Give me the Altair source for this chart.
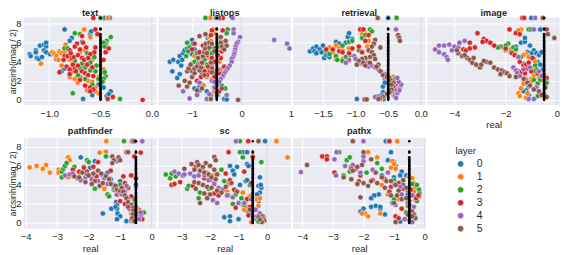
import altair as alt
import pandas as pd

PALETTE = ["#1f77b4", "#ff7f0e", "#2ca02c", "#d62728", "#9467bd", "#8c564b"]
PANELS = ["text", "listops", "retrieval", "image", "pathfinder", "sc", "pathx"]
BLACK_Y = [0.0,0.1,0.2,0.3,0.4,0.55,0.7,0.8,0.95,1.1,1.2,1.35,1.5,1.6,1.75,1.9,2.0,2.15,2.3,2.4,2.55,2.7,2.8,2.95,3.1,
           3.2,3.35,3.5,3.6,3.75,3.9,4.0,4.15,4.3,4.4,4.55,4.7,4.8,4.95,5.1,5.2,5.35,5.5,5.6,5.75,5.9,6.0,6.1,6.25,6.4,6.55,6.7,6.9,7.4,7.5,8.6]

TEXT = {
0:[(-1.19,4.8),(-1.18,4.6),(-1.13,5.2),(-1.13,5.0),(-1.12,4.4),(-1.10,4.3),(-1.07,4.5),(-1.09,5.7),(-1.05,5.8),(-1.03,5.6),(-1.03,6.0),(-1.05,5.2),(-1.03,5.0),(-0.99,4.8),(-0.96,4.9),(-0.93,4.3),(-0.88,3.0),(-0.85,3.3),(-0.85,7.4),(-0.78,6.5),(-0.80,6.2),(-0.68,6.1),(-0.6,6.9),(-0.59,7.2),(-0.67,0.1),(-0.58,0.5),(-0.44,0.4),(-0.4,0.9),(-0.42,0.6),(-0.47,1.3),(-0.52,1.6),(-0.46,8.6),(-0.41,8.6),(-0.45,2.5)],
1:[(-1.08,3.8),(-0.97,5.0),(-0.95,4.8),(-0.93,4.6),(-0.9,5.1),(-0.88,4.9),(-0.85,5.0),(-0.83,4.6),(-0.8,4.2),(-0.91,4.2),(-0.88,3.6),(-0.85,5.5),(-0.84,5.8),(-0.66,7.4),(-0.6,6.6),(-0.78,3.0),(-0.75,2.2),(-0.72,1.8),(-0.69,3.4),(-0.62,2.0),(-0.55,1.3),(-0.52,0.7),(-0.55,0.9),(-0.63,1.0),(-0.58,1.9),(-0.43,8.6),(-0.47,3.2),(-0.7,5.0),(-0.75,3.9),(-0.65,5.2),(-0.58,4.2),(-0.52,2.4),(-0.8,2.4)],
2:[(-0.77,0.7),(-0.75,7.0),(-0.7,6.9),(-0.4,6.6),(-0.44,6.2),(-0.45,5.9),(-0.47,6.0),(-0.85,5.4),(-0.82,5.4),(-0.7,2.4),(-0.65,2.2),(-0.55,3.0),(-0.6,3.1),(-0.65,3.4),(-0.72,2.6),(-0.5,8.6),(-0.31,0.1),(-0.45,2.5),(-0.47,2.2),(-0.48,1.9),(-0.46,2.9),(-0.7,3.3),(-0.68,3.8),(-0.6,3.9),(-0.56,4.5),(-0.54,3.6),(-0.58,1.6),(-0.63,4.9),(-0.75,4.1),(-0.52,2.2),(-0.46,5.6)],
3:[(-0.09,0.0),(-0.38,0.3),(-0.43,0.1),(-0.57,8.6),(-0.55,7.4),(-0.53,6.9),(-0.42,5.4),(-0.45,5.0),(-0.47,4.2),(-0.68,6.7),(-0.67,6.0),(-0.73,5.9),(-0.75,5.6),(-0.8,5.2),(-0.85,4.6),(-0.82,4.6),(-0.78,4.4),(-0.76,4.5),(-0.72,4.7),(-0.68,4.4),(-0.66,4.2),(-0.83,3.5),(-0.8,3.2),(-0.75,3.3),(-0.72,3.6),(-0.68,3.0),(-0.65,2.8),(-0.62,2.6),(-0.9,2.9),(-0.8,2.7),(-0.65,1.5),(-0.6,1.3),(-0.57,1.1),(-0.6,0.9),(-0.56,5.0),(-0.6,4.8),(-0.62,4.4),(-0.55,5.5),(-0.58,3.4),(-0.7,5.3),(-0.64,5.5),(-0.77,3.7),(-0.7,2.1),(-0.57,2.5),(-0.63,3.7),(-0.79,4.9),(-0.74,3.0),(-0.86,4.2)],
}
LISTOPS = {
0:[(-1.45,4.0),(-1.38,4.2),(-1.28,4.0),(-1.22,3.6),(-1.4,3.0),(-1.25,2.7),(-1.25,4.6),(-1.18,4.9),(-1.15,5.2),(-1.1,5.4),(-1.05,5.6),(-1.05,5.0),(-1.0,4.8),(-1.0,6.3),(-0.98,5.9),(-1.2,4.2),(-1.3,2.3),(-0.95,5.3),(-0.95,1.2),(-0.9,0.6),(-0.85,1.4),(-0.85,1.0),(-0.8,1.6),(-0.7,0.9),(-0.62,0.5),(-0.55,1.1),(-0.35,0.1),(-0.3,0.05),(-0.52,8.6),(-0.5,8.6),(-0.68,6.5)],
1:[(-0.95,4.6),(-0.9,4.2),(-0.85,4.0),(-0.8,3.6),(-0.75,3.3),(-0.7,3.0),(-0.7,4.4),(-0.6,3.6),(-0.55,2.7),(-0.6,2.2),(-0.7,2.4),(-0.77,1.5),(-0.65,6.6),(-0.62,6.2),(-0.6,5.6),(-0.55,7.0),(-0.57,7.4),(-0.48,6.5),(-0.45,5.2),(-0.45,4.0),(-0.42,3.2),(-0.63,8.6),(-0.55,0.9),(-0.5,1.7),(-0.98,3.9),(-0.65,4.7)],
2:[(-0.73,8.6),(-1.1,6.0),(-1.05,5.5),(-1.08,5.1),(-1.12,4.6),(-0.95,4.0),(-0.88,3.8),(-0.82,4.5),(-0.75,4.2),(-0.7,3.7),(-0.68,5.2),(-0.6,4.9),(-0.55,5.4),(-0.45,5.6),(-0.38,6.0),(-0.28,7.4),(-0.3,7.0),(-0.55,2.9),(-0.45,1.9),(-0.4,1.5),(-0.33,1.2),(-0.48,0.5),(-0.8,2.8),(-1.0,3.0),(-0.9,4.9),(-0.65,3.2)],
3:[(-0.38,8.6),(-0.6,7.3),(-0.62,6.8),(-0.38,7.3),(-0.95,5.9),(-1.0,5.3),(-0.85,5.0),(-0.75,5.2),(-0.7,4.7),(-0.6,4.4),(-0.55,4.0),(-0.6,3.3),(-0.65,2.9),(-0.7,2.6),(-0.55,2.4),(-0.45,2.8),(-0.42,4.4),(-0.4,5.1),(-0.38,5.4),(-0.9,2.0),(-0.82,2.4),(-0.35,3.5),(-0.75,3.0),(-0.45,0.9),(-0.85,3.7),(-0.78,5.7)],
4:[(-0.03,6.6),(-0.07,6.1),(-0.1,5.9),(-0.12,5.6),(-0.13,5.3),(-0.14,5.0),(-0.15,4.8),(-0.17,4.5),(-0.2,4.3),(-0.2,4.0),(-0.24,3.6),(-0.28,3.3),(-0.32,3.0),(-0.35,2.8),(-0.38,2.5),(-0.42,2.2),(-0.45,1.9),(-0.5,1.5),(-0.55,1.3),(-0.16,7.4),(-0.16,7.0),(-0.18,8.6),(0.66,6.3),(0.92,5.9),(0.97,5.4),(-1.18,0.9),(-1.05,0.15),(-0.85,1.8),(-0.65,0.6),(-0.7,0.1),(-0.9,0.5),(-0.6,2.0),(-0.55,1.9),(-0.48,3.2),(-0.3,0.5)],
5:[(-1.27,1.5),(-1.15,2.0),(-1.1,1.4),(-1.05,1.8),(-1.0,2.4),(-1.0,3.0),(-0.95,2.8),(-1.1,3.0),(-1.07,3.3),(-1.03,3.7),(-0.95,3.3),(-0.9,3.5),(-0.85,3.1),(-0.82,3.4),(-0.8,3.9),(-0.78,4.6),(-0.75,5.0),(-0.73,5.4),(-0.72,5.9),(-0.7,4.9),(-0.65,5.5),(-0.65,6.0),(-0.6,5.9),(-0.55,5.1),(-0.85,6.7),(-0.73,6.9),(-0.42,6.0),(-0.4,5.6),(-0.35,5.3),(-0.3,5.7),(-0.32,6.2),(-0.42,6.6),(-0.07,0.0),(-0.5,0.5),(-0.62,0.1),(-0.45,8.6),(-0.4,1.2),(-0.8,1.2),(-0.9,1.0),(-0.6,2.9),(-0.62,3.9),(-0.48,4.7),(-0.75,2.6),(-0.68,3.5),(-0.88,4.4)],
}
RETRIEVAL = {
0:[(-1.7,5.1),(-1.65,5.4),(-1.63,5.1),(-1.6,4.9),(-1.6,5.6),(-1.55,5.3),(-1.52,5.0),(-1.5,5.7),(-1.48,4.4),(-1.45,4.7),(-1.4,4.5),(-1.3,6.1),(-1.25,5.9),(-1.15,6.0),(-1.12,6.6),(-1.1,7.0),(-1.05,6.4),(-0.98,0.1),(-0.55,2.2),(-0.58,1.4),(-0.58,0.8),(-0.6,0.5),(-0.65,0.35),(-0.57,0.1),(-0.5,8.6),(-0.55,1.8),(-1.3,4.3)],
1:[(-0.9,7.4),(-0.86,7.0),(-0.9,6.9),(-0.38,8.6),(-1.4,5.5),(-1.3,5.7),(-1.25,5.4),(-1.2,5.2),(-1.35,5.0),(-1.1,5.4),(-1.3,4.3),(-1.2,4.3),(-1.1,4.1),(-0.82,5.6),(-0.8,6.2),(-0.42,2.4),(-0.38,2.0),(-0.4,1.6),(-0.35,1.3),(-0.45,1.0),(-0.42,0.5)],
2:[(-0.88,7.4),(-0.78,7.4),(-0.75,7.2),(-1.1,6.1),(-1.05,6.2),(-1.2,5.7),(-1.45,5.1),(-1.4,4.8),(-1.3,4.6),(-1.28,4.2),(-1.15,4.5),(-1.08,4.7),(-0.95,5.2),(-0.9,6.5),(-0.85,6.8),(-0.45,2.1),(-0.4,2.2),(-0.43,0.9),(-0.37,8.6),(-1.2,4.1)],
3:[(-0.93,7.4),(-0.86,0.05),(-0.88,7.4),(-0.8,6.8),(-1.45,5.3),(-1.35,5.3),(-1.25,5.1),(-1.2,5.0),(-1.1,4.9),(-1.05,5.4),(-0.95,5.6),(-0.9,5.0),(-0.85,6.2),(-0.42,1.2),(-0.38,1.7),(-0.55,2.4)],
4:[(-1.02,4.6),(-1.0,4.3),(-1.1,4.2),(-1.15,3.9),(-0.95,4.0),(-0.9,3.8),(-0.85,3.7),(-0.8,3.5),(-0.75,3.6),(-0.7,3.4),(-0.65,3.2),(-0.38,7.4),(-0.6,2.9),(-0.55,2.7),(-0.32,1.3),(-0.3,1.6),(-0.34,1.9),(-0.36,2.3),(-0.4,0.4),(-0.36,0.7),(-0.38,0.2),(-0.62,0.1),(-0.7,0.3),(-0.33,1.0),(-0.4,1.1),(-0.82,3.9)],
5:[(-0.66,8.6),(-0.35,6.8),(-0.33,6.5),(-0.32,6.2),(-0.7,6.3),(-0.72,5.9),(-0.75,5.6),(-0.8,5.2),(-0.75,5.0),(-0.72,4.7),(-0.78,4.5),(-0.85,4.4),(-0.9,4.3),(-0.95,4.1),(-0.88,3.9),(-0.85,3.6),(-0.78,3.9),(-0.7,4.3),(-0.65,3.7),(-0.68,3.5),(-0.62,3.0),(-0.58,2.6),(-0.52,2.4),(-0.48,2.3),(-0.45,2.0),(-0.42,1.8),(-0.42,1.4),(-0.45,1.1),(-0.48,0.8),(-0.52,0.6),(-0.58,0.35),(-0.62,0.2),(-0.65,0.1),(-0.83,0.05),(-0.45,1.6),(-0.98,3.7),(-0.62,5.5)],
}
IMAGE = {
0:[(-1.0,8.6),(-0.65,7.4),(-1.6,5.6),(-1.4,6.0),(-1.25,6.1),(-1.05,5.7),(-0.9,5.2),(-0.8,4.9),(-0.7,4.7),(-1.0,4.9),(-1.15,5.0),(-0.9,4.3),(-0.75,4.0),(-0.65,3.7),(-0.85,3.3),(-0.55,3.2),(-1.1,1.4),(-1.2,1.0),(-1.3,0.9),(-1.1,0.5),(-0.6,5.0),(-1.25,6.5)],
1:[(-1.4,7.4),(-1.5,7.3),(-2.1,5.5),(-2.0,5.2),(-1.8,5.3),(-1.7,5.0),(-1.2,4.8),(-1.3,4.7),(-1.1,4.5),(-0.85,4.0),(-1.0,2.2),(-1.0,1.9),(-1.3,1.7),(-1.4,1.2),(-1.5,0.7),(-1.45,0.4),(-1.2,0.2),(-1.15,0.7),(-0.7,2.3),(-0.9,2.6),(-1.25,2.3),(-0.8,1.2)],
2:[(-1.1,7.4),(-1.0,7.4),(-1.9,5.9),(-2.0,5.7),(-2.2,5.6),(-2.3,5.5),(-1.7,5.5),(-1.8,5.0),(-1.6,4.7),(-1.4,4.5),(-0.85,3.6),(-0.8,3.2),(-0.9,3.0),(-1.3,3.8),(-0.9,2.1),(-0.7,2.6),(-0.65,2.1),(-0.75,1.7),(-0.4,1.8),(-0.75,0.4),(-1.6,5.3)],
3:[(-3.1,7.0),(-2.85,6.4),(-3.4,6.0),(-2.75,6.2),(-3.65,5.3),(-3.55,5.2),(-3.4,5.4),(-3.2,5.5),(-2.9,6.1),(-2.6,6.0),(-2.45,5.7),(-1.85,7.4),(-1.6,7.0),(-1.45,6.9),(-2.0,5.4),(-1.75,4.9),(-1.65,4.7),(-1.5,4.5),(-1.45,4.0),(-1.3,3.6),(-1.2,3.7),(-1.1,3.9),(-1.15,3.3),(-1.0,3.0),(-0.95,4.4),(-1.5,3.0),(-1.4,2.9),(-1.25,2.8),(-0.55,2.6),(-0.4,2.3),(-0.5,2.1),(-0.75,2.8),(-1.35,8.6),(-1.28,8.6),(-0.5,0.4)],
4:[(-4.6,5.7),(-4.75,5.3),(-4.6,5.0),(-4.4,4.8),(-4.3,4.5),(-4.25,4.2),(-4.4,5.7),(-4.2,5.8),(-4.0,5.6),(-3.85,5.5),(-3.8,6.0),(-3.6,6.2),(-4.1,5.2),(-0.85,8.6),(-0.9,7.4),(-1.7,3.4),(-1.6,3.1),(-1.55,2.8),(-1.45,2.5),(-0.8,1.3),(-1.1,0.1),(-0.9,0.1),(-1.2,2.1),(-1.3,3.2),(-1.05,3.4),(-0.7,3.0),(-0.6,2.5),(-1.5,4.5)],
5:[(-0.55,8.6),(-0.4,7.4),(-0.35,6.9),(-0.1,6.5),(-3.85,4.9),(-3.7,4.6),(-3.5,4.4),(-3.4,4.2),(-3.3,3.9),(-3.15,3.7),(-3.0,3.4),(-2.95,3.7),(-2.75,4.0),(-2.6,3.9),(-2.85,4.1),(-3.6,4.7),(-3.25,4.4),(-3.9,5.2),(-2.45,3.4),(-2.3,3.2),(-2.15,3.1),(-2.05,2.9),(-1.95,2.8),(-1.85,2.5),(-1.6,2.4),(-1.3,2.2),(-1.15,1.8),(-1.05,1.5),(-0.9,1.1),(-0.7,0.9),(-0.6,0.5),(-0.4,0.3),(-0.45,1.3),(-2.2,2.7)],
}
PATHFINDER = {
0:[(-2.25,6.9),(-1.95,5.8),(-1.8,6.5),(-1.55,1.0),(-1.28,1.5),(-1.13,2.2),(-1.1,1.9),(-1.1,1.5),(-1.08,1.0),(-1.0,0.7),(-1.1,0.4),(-0.8,0.2),(-1.2,4.0),(-1.0,4.4),(-1.4,5.3),(-1.55,5.0),(-1.3,4.6),(-0.65,0.2),(-0.5,4.0),(-2.15,5.9),(-1.15,1.7)],
1:[(-3.87,5.85),(-3.65,6.0),(-3.45,5.7),(-3.35,6.1),(-3.23,5.3),(-2.95,5.6),(-2.95,5.3),(-2.65,6.9),(-2.6,6.6),(-2.7,6.3),(-2.65,4.8),(-2.5,4.9),(-1.65,7.4),(-1.45,7.5),(-1.44,8.6),(-2.3,5.3),(-1.9,4.9),(-1.6,4.0),(-1.5,3.6),(-0.55,2.2),(-0.4,1.4),(-0.6,0.2),(-0.65,1.0),(-0.5,0.6)],
2:[(-0.88,8.6),(-2.85,4.8),(-2.85,5.4),(-2.8,5.7),(-2.75,6.0),(-2.7,6.3),(-2.45,5.9),(-2.05,6.6),(-2.0,6.4),(-1.45,7.0),(-1.8,3.6),(-1.4,3.0),(-1.35,2.8),(-1.0,4.0),(-0.9,3.7),(-0.5,1.0),(-0.25,1.1),(-0.55,2.5),(-1.2,3.5)],
3:[(-0.62,8.6),(-0.35,7.4),(-2.3,5.4),(-2.5,5.6),(-2.15,5.8),(-1.85,5.9),(-1.7,6.4),(-2.05,5.4),(-1.75,4.9),(-1.5,5.0),(-1.3,5.5),(-0.9,4.9),(-0.65,5.0),(-0.85,4.2),(-0.75,3.7),(-1.0,2.3),(-0.85,2.0),(-0.7,1.5),(-0.65,2.8),(-1.1,3.0),(-0.3,0.4),(-0.5,4.7),(-0.55,7.0)],
4:[(-0.3,8.6),(-2.75,5.0),(-2.6,5.1),(-2.5,5.2),(-2.35,4.7),(-2.25,4.5),(-2.1,4.8),(-1.9,4.6),(-1.7,4.4),(-1.4,4.1),(-1.2,3.7),(-1.05,3.2),(-0.95,3.0),(-0.85,3.3),(-1.1,6.5),(-0.8,3.9),(-0.35,0.8),(-0.35,1.1),(-0.4,0.4),(-0.5,1.7),(-0.6,1.2),(-1.5,4.7),(-0.75,2.5)],
5:[(-0.6,8.6),(-0.55,8.6),(-0.8,7.45),(-0.75,7.45),(-1.25,7.0),(-1.2,6.6),(-1.25,6.3),(-1.05,6.9),(-1.0,6.6),(-2.2,5.3),(-2.05,5.1),(-2.0,5.0),(-1.85,5.2),(-1.7,5.5),(-1.6,5.2),(-1.45,4.9),(-1.35,4.6),(-1.8,4.4),(-1.9,4.1),(-1.65,3.9),(-1.55,4.2),(-1.3,4.1),(-1.15,3.9),(-1.1,3.5),(-1.0,3.4),(-0.95,3.7),(-0.9,3.3),(-0.85,2.9),(-0.8,2.6),(-0.75,2.2),(-0.65,1.9),(-0.6,1.6),(-0.58,1.3),(-0.6,0.9),(-0.62,0.5),(-0.55,0.2),(-0.75,1.7),(-2.45,4.9),(-2.3,4.8),(-2.1,4.3)],
}
SC = {
0:[(-0.07,8.6),(-0.85,7.45),(-0.7,7.45),(-1.3,6.0),(-1.2,5.5),(-1.15,5.1),(-1.05,5.9),(-0.7,6.2),(-0.65,6.0),(-0.75,4.4),(-0.95,4.0),(-0.7,4.5),(-0.25,4.8),(-0.3,3.9),(-0.2,3.7),(-0.25,3.2),(-0.35,3.0),(-0.22,4.0),(-0.55,2.9),(-1.5,0.6),(-1.3,0.7),(-1.3,0.2),(-1.0,0.4),(-0.7,1.3),(-0.6,0.9),(-0.3,2.3)],
1:[(0.33,8.6),(0.72,6.9),(-0.5,7.0),(-2.25,5.6),(-2.1,5.3),(-1.9,5.0),(-1.75,5.2),(-1.5,4.4),(-1.35,4.1),(-1.1,3.4),(-0.85,3.2),(-0.65,2.6),(-0.85,1.9),(-0.8,1.4),(-0.7,1.7),(-0.75,2.2),(-0.3,1.8),(-0.35,2.5),(-0.25,2.6),(-0.55,0.1),(-0.6,2.8),(-1.85,4.4),(-1.4,3.3)],
2:[(-0.95,8.6),(-0.95,7.45),(-0.85,6.9),(-0.2,6.4),(-3.55,5.1),(-3.4,4.7),(-3.2,4.9),(-3.35,5.2),(-2.8,3.6),(-2.75,3.9),(-2.4,2.6),(-2.35,3.2),(-2.05,3.6),(-1.85,4.2),(-1.6,5.6),(-1.5,4.4),(-1.2,2.0),(-1.35,2.9),(-0.9,2.6),(-0.8,1.9),(-0.35,0.4),(-0.3,0.15),(-1.1,3.0),(-0.6,4.0)],
3:[(-0.66,8.6),(-1.35,7.45),(-0.5,6.95),(-3.35,4.0),(-3.25,4.1),(-3.05,4.3),(-2.95,5.0),(-2.6,3.9),(-2.5,5.9),(-2.45,6.3),(-2.2,4.7),(-2.0,4.5),(-1.85,3.1),(-1.7,2.9),(-1.6,3.5),(-1.45,5.2),(-1.3,4.5),(-1.15,3.5),(-0.8,5.4),(-0.55,4.2),(-0.7,2.5),(-0.6,1.7),(-0.65,0.8),(-1.1,1.6)],
4:[(-1.09,8.6),(-3.25,5.4),(-3.1,5.2),(-2.9,5.1),(-2.7,5.2),(-2.55,4.9),(-2.4,5.0),(-2.2,5.0),(-2.05,4.5),(-1.85,4.1),(-1.7,3.7),(-1.55,3.5),(-1.4,2.9),(-1.2,2.7),(-1.9,2.4),(-1.75,2.1),(-0.55,2.5),(-0.5,0.6),(-0.35,0.7),(-0.25,1.0),(-0.4,1.4),(-1.0,2.1),(-0.8,2.1)],
5:[(-0.3,8.6),(-1.85,6.95),(-1.8,6.6),(-2.45,6.4),(-2.4,6.1),(-2.65,6.2),(-2.9,5.7),(-2.55,5.6),(-2.35,5.5),(-2.25,5.9),(-2.15,6.3),(-2.0,6.0),(-1.85,5.6),(-1.75,5.1),(-2.2,5.3),(-2.05,5.1),(-1.95,4.8),(-1.8,4.6),(-2.55,4.3),(-2.4,4.2),(-2.25,4.0),(-2.1,3.8),(-1.95,3.7),(-1.75,3.4),(-1.6,3.2),(-2.5,3.6),(-2.2,3.1),(-2.0,3.0),(-2.1,2.6),(-2.35,2.1),(-1.25,4.2),(-1.45,3.8),(-0.15,0.7),(-0.12,0.45),(-0.1,0.25),(-0.2,0.2),(-0.18,0.1),(-0.3,0.6),(-0.25,0.35),(-0.6,1.4),(-1.05,3.3)],
}
PATHX = {
0:[(-1.27,8.6),(-1.18,8.6),(-1.1,7.45),(-1.2,6.6),(-1.0,6.4),(-0.95,6.0),(-0.75,5.4),(-0.6,5.0),(-0.8,5.0),(-1.4,5.0),(-1.0,4.8),(-0.7,4.0),(-1.5,3.0),(-1.65,2.9),(-1.75,2.6),(-1.6,1.8),(-1.45,1.5),(-1.45,1.7),(-1.75,1.7),(-1.3,0.9),(-2.0,1.5),(-2.1,1.2),(-1.05,2.1),(-0.85,0.3),(-0.8,0.15),(-0.55,3.0)],
1:[(-0.9,8.6),(-1.85,7.45),(-1.55,6.9),(-1.05,6.5),(-1.0,6.2),(-1.1,5.8),(-0.95,5.7),(-0.5,4.9),(-0.4,4.7),(-0.35,4.2),(-0.3,3.7),(-0.35,3.3),(-0.25,2.9),(-0.3,2.4),(-1.2,3.0),(-1.4,4.0),(-1.95,1.0),(-1.85,0.7),(-1.45,1.0),(-2.05,1.0),(-0.85,2.5)],
2:[(-2.8,7.45),(-2.55,6.6),(-2.45,6.9),(-1.55,6.3),(-1.4,5.7),(-2.65,5.0),(-2.45,5.4),(-1.9,5.3),(-0.4,4.1),(-0.25,4.0),(-0.18,3.5),(-0.17,3.1),(-0.18,2.8),(-0.25,2.3),(-0.4,1.5),(-0.45,0.7),(-0.55,1.8),(-0.6,1.1),(-1.0,2.5),(-1.0,4.5),(-0.5,0.3)],
3:[(-1.15,8.6),(-3.35,7.0),(-3.2,7.0),(-3.2,6.7),(-2.95,5.3),(-2.4,5.9),(-2.25,5.7),(-2.1,5.0),(-1.7,4.5),(-1.3,4.6),(-0.85,4.2),(-0.7,3.6),(-0.45,3.5),(-0.28,2.6),(-0.2,2.9),(-0.5,2.3),(-0.95,0.7),(-0.85,0.5),(-0.45,1.3),(-1.1,3.8),(-0.75,1.5)],
4:[(-2.0,8.6),(-2.95,6.7),(-2.88,7.45),(-4.05,5.35),(-2.9,5.0),(-2.6,6.0),(-2.35,6.1),(-2.0,6.5),(-2.0,7.0),(-2.1,5.3),(-1.7,5.6),(-1.2,5.3),(-1.0,4.1),(-0.8,3.8),(-0.55,3.4),(-0.4,2.9),(-0.55,2.1),(-0.65,0.4),(-0.4,0.1),(-0.95,1.9),(-0.35,1.7),(-0.75,3.0)],
5:[(-2.35,8.6),(-3.85,6.1),(-2.0,7.45),(-1.75,6.7),(-2.4,5.7),(-2.2,5.9),(-2.05,6.1),(-2.35,5.5),(-2.65,4.8),(-2.4,4.6),(-2.15,4.4),(-2.2,4.1),(-2.0,4.2),(-1.85,3.9),(-2.1,2.7),(-1.6,5.3),(-1.4,4.8),(-1.25,4.4),(-1.1,4.4),(-0.95,4.0),(-0.85,3.4),(-1.3,3.7),(-1.15,3.3),(-1.1,2.9),(-0.9,2.9),(-0.75,2.5),(-0.6,2.6),(-0.5,1.9),(-0.4,1.2),(-0.35,0.9),(-0.3,0.5),(-0.4,0.7),(-0.95,0.1),(-0.55,0.9),(-1.55,4.2),(-1.75,4.4),(-0.7,4.5),(-1.0,2.1),(-0.6,3.7)],
}
POINTS = [TEXT, LISTOPS, RETRIEVAL, IMAGE, PATHFINDER, SC, PATHX]
X_DOMAINS = [[-1.246,0.045],[-1.68,1.0],[-1.96,0.072],[-5.05,0.12],[-4.05,0.15],[-3.81,0.84],[-4.31,0.03]]
X_TICKS = [[-1.0,-0.5,0.0],[-1,0,1],[-1.5,-1.0,-0.5,0.0],[-4,-2,0],[-4,-3,-2,-1,0],[-3,-2,-1,0],[-4,-3,-2,-1,0]]
X_FORMATS = [".1f","d",".1f","d","d","d","d"]
SHOW_REAL = [False,False,False,True,True,True,True]
SHOW_Y = [True,False,False,False,True,False,False]
Y_TICKS = [0,2,4,6,8]
DOT = "#262626"

panels = []
for i, name in enumerate(PANELS):
    rows = [{"real":x,"imag":y,"layer":k} for k,pts in POINTS[i].items() for x,y in pts]
    top_row = i < 4
    ydom = [-0.55,8.66] if top_row else [-0.6,8.94]
    xscale = alt.Scale(domain=X_DOMAINS[i], nice=False, zero=False)
    yscale = alt.Scale(domain=ydom, nice=False, zero=False)
    xax = alt.Axis(values=X_TICKS[i], format=X_FORMATS[i], title="real" if SHOW_REAL[i] else None,
                   grid=True, gridColor="white", gridWidth=1, ticks=False, domain=False,
                   labelFontSize=9.5, labelColor=DOT, labelPadding=3, titleFontSize=9.5, titleColor=DOT,
                   titleFontWeight="normal", titlePadding=2, labelFlush=False)
    yax = alt.Axis(values=Y_TICKS, format="d", title="arcsinh(imag / 2)" if SHOW_Y[i] else None,
                   labels=SHOW_Y[i], grid=True, gridColor="white", gridWidth=1, ticks=False, domain=False,
                   labelFontSize=9.5, labelColor=DOT, labelPadding=3, titleFontSize=8.8, titleColor=DOT,
                   titleFontWeight="normal", titlePadding=-2)
    X = alt.X("real:Q", scale=xscale, axis=xax)
    Y = alt.Y("imag:Q", scale=yscale, axis=yax)
    rule = alt.Chart(pd.DataFrame({"real":[0]})).mark_rule(color="#dcdcec", strokeWidth=1.5).encode(x=X)
    pts = alt.Chart(pd.DataFrame(rows)).mark_point(filled=True, size=28, opacity=1, stroke="white", strokeWidth=0.5).encode(
        x=X, y=Y,
        fill=alt.Fill("layer:N", scale=alt.Scale(domain=[0,1,2,3,4,5], range=PALETTE),
                      legend=alt.Legend(orient="none", legendX=433, legendY=129, title="layer",
                                        titleFontSize=9.5, titleColor=DOT, titleFontWeight="normal",
                                        labelFontSize=10.5, labelColor=DOT, symbolSize=38, symbolStrokeColor="white",
                                        symbolStrokeWidth=0.5, clipHeight=13, rowPadding=0, labelOffset=11,
                                        titlePadding=2, symbolType="circle")))
    black = alt.Chart(pd.DataFrame({"real":[-0.5]*len(BLACK_Y),"imag":BLACK_Y})).mark_point(
        filled=True, size=7, color="black", opacity=1).encode(x=X, y=Y)
    panels.append(alt.layer(rule, pts, black).properties(
        width=133, height=88 if top_row else 91,
        title=alt.TitleParams(name, fontSize=9.2, fontWeight="bold", color=DOT, offset=-4 if top_row else 1, anchor="middle")))

chart = alt.concat(*panels, columns=4, spacing={"row":33,"column":2}, bounds="flush").properties(
    padding=0, background="white"
).configure(font="Liberation Sans").configure_view(fill="#EAEAF2", stroke=None)
chart.save("out.html", embed_options={"renderer": "svg", "actions": False})
